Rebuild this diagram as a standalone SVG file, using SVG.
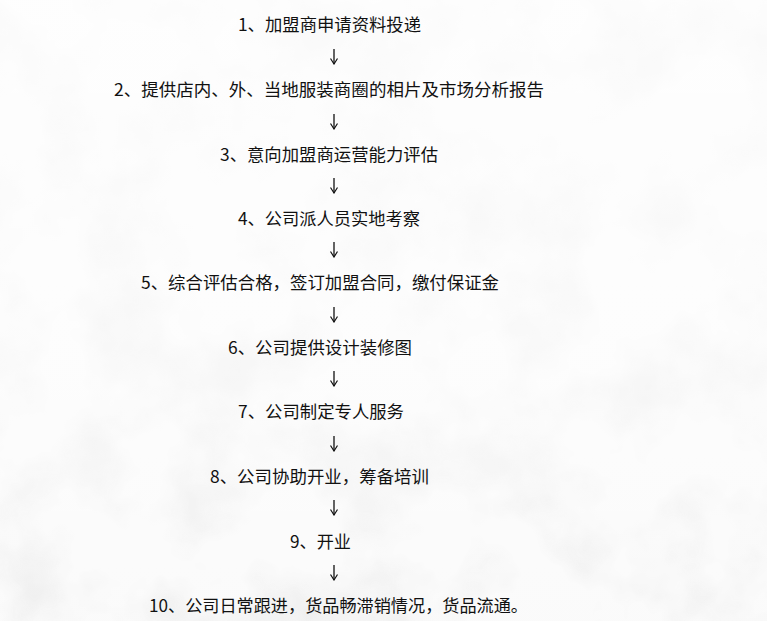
<svg xmlns="http://www.w3.org/2000/svg" width="767" height="621" viewBox="0 0 767 621">
<style>
.t{font-family:"Noto Sans CJK SC","Noto Sans",sans-serif;font-size:17px;fill:#111}
.a{stroke:#111;stroke-width:1.3;fill:none}
</style>
<defs>
<marker id="ah" viewBox="0 0 8 8" refX="7.5" refY="4" markerWidth="8" markerHeight="8" markerUnits="userSpaceOnUse" orient="auto">
<path d="M2,0.5 L7.5,4 L2,7.5" fill="none" stroke="#111" stroke-width="1.2"/>
</marker>
<filter id="tex" x="0" y="0" width="100%" height="100%">
<feTurbulence type="fractalNoise" baseFrequency="0.012" numOctaves="4" seed="7" result="n"/>
<feColorMatrix in="n" type="matrix" values="0 0 0 0 0.55  0 0 0 0 0.55  0 0 0 0 0.55  0 0 0 -1.6 0.95"/>
</filter>
<linearGradient id="fade" x1="0" y1="0" x2="0" y2="1">
<stop offset="0" stop-color="#fff" stop-opacity="0.75"/>
<stop offset="0.6" stop-color="#fff" stop-opacity="0.55"/>
<stop offset="1" stop-color="#fff" stop-opacity="0.1"/>
</linearGradient>
</defs>
<rect width="767" height="621" fill="#fafafa"/>
<rect width="767" height="621" filter="url(#tex)" opacity="0.35"/>
<rect width="767" height="621" fill="url(#fade)"/>
<g id="connectors">
<line class="a" x1="334" y1="49" x2="334" y2="64" marker-end="url(#ah)"/>
<line class="a" x1="334" y1="114" x2="334" y2="129" marker-end="url(#ah)"/>
<line class="a" x1="334" y1="178" x2="334" y2="193" marker-end="url(#ah)"/>
<line class="a" x1="334" y1="242" x2="334" y2="257" marker-end="url(#ah)"/>
<line class="a" x1="334" y1="307" x2="334" y2="322" marker-end="url(#ah)"/>
<line class="a" x1="334" y1="371" x2="334" y2="386" marker-end="url(#ah)"/>
<line class="a" x1="334" y1="436" x2="334" y2="451" marker-end="url(#ah)"/>
<line class="a" x1="334" y1="500" x2="334" y2="515" marker-end="url(#ah)"/>
<line class="a" x1="334" y1="565" x2="334" y2="580" marker-end="url(#ah)"/>
</g>
<g id="step1"><text class="t" x="238" y="30.5" textLength="183" lengthAdjust="spacingAndGlyphs">1、加盟商申请资料投递</text></g>
<g id="step2"><text class="t" x="114" y="95.5" textLength="430" lengthAdjust="spacingAndGlyphs">2、提供店内、外、当地服装商圈的相片及市场分析报告</text></g>
<g id="step3"><text class="t" x="220" y="160.5" textLength="218" lengthAdjust="spacingAndGlyphs">3、意向加盟商运营能力评估</text></g>
<g id="step4"><text class="t" x="238" y="224.5" textLength="182" lengthAdjust="spacingAndGlyphs">4、公司派人员实地考察</text></g>
<g id="step5"><text class="t" x="141" y="289" textLength="358" lengthAdjust="spacingAndGlyphs">5、综合评估合格，签订加盟合同，缴付保证金</text></g>
<g id="step6"><text class="t" x="228" y="353.5" textLength="184" lengthAdjust="spacingAndGlyphs">6、公司提供设计装修图</text></g>
<g id="step7"><text class="t" x="238" y="418" textLength="166" lengthAdjust="spacingAndGlyphs">7、公司制定专人服务</text></g>
<g id="step8"><text class="t" x="210" y="482.5" textLength="219" lengthAdjust="spacingAndGlyphs">8、公司协助开业，筹备培训</text></g>
<g id="step9"><text class="t" x="290" y="547.5" textLength="61" lengthAdjust="spacingAndGlyphs">9、开业</text></g>
<g id="step10"><text class="t" x="149" y="612" textLength="379" lengthAdjust="spacingAndGlyphs">10、公司日常跟进，货品畅滞销情况，货品流通。</text></g>
</svg>
